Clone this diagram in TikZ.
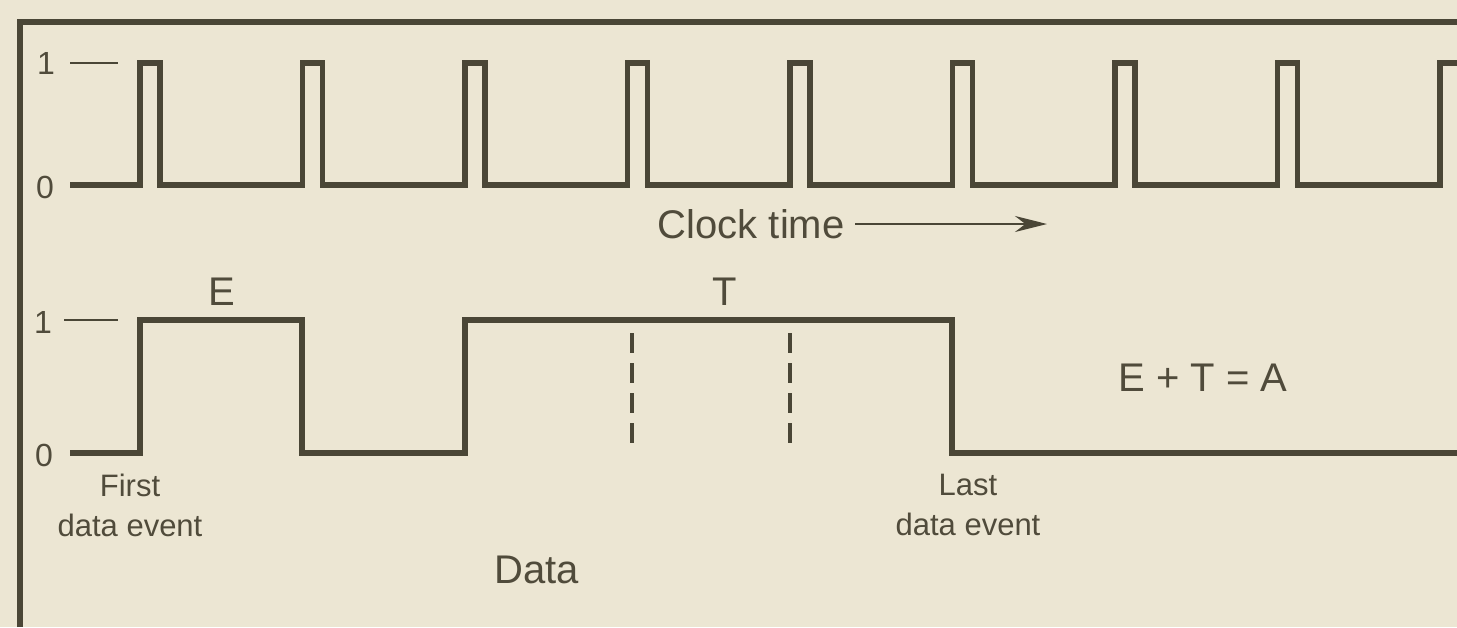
\documentclass[tikz,border=0pt]{standalone}
\usepackage{fontspec}
\setmainfont{Liberation Sans}
\usetikzlibrary{arrows.meta}
\definecolor{paper}{HTML}{ECE6D3}
\definecolor{ink}{HTML}{4A4636}
\definecolor{txt}{HTML}{504B3B}
\begin{document}
\begin{tikzpicture}[x=0.5pt,y=-0.5pt,
  wave/.style={draw=ink,line width=2.6pt,line join=miter},
  thin/.style={draw=ink,line width=1.3pt},
  frame/.style={draw=ink,line width=2.6pt},
  guide/.style={draw=ink,line width=1.9pt,dash pattern=on 10pt off 5pt},
  lbl/.style={text=txt,inner sep=0pt,font=\fontsize{16}{18}\selectfont},
  big/.style={text=txt,inner sep=0pt,font=\fontsize{20}{22}\selectfont},
  small/.style={text=txt,inner sep=0pt,align=center,font=\fontsize{15.5}{20}\selectfont}]
\fill[paper] (0,0) rectangle (1457,627);
\useasboundingbox (0,0) rectangle (1457,627);
% frame
\draw[frame] (20,627) -- (20,22) -- (1457,22);
% clock level labels
\node[lbl] (c1) at (46,63) {1};
\node[lbl] (c0) at (45,187) {0};
\coordinate (c1a) at (70,63);
\coordinate (c1b) at (118,63);
\draw[thin] (c1a) -- (c1b);
% clock waveform
\draw[wave] (70,185)
  \foreach \k in {0,...,7} {
    -- ({140+162.5*\k},185) -- ({140+162.5*\k},63) -- ({160+162.5*\k},63) -- ({160+162.5*\k},185)
  }
  -- (1440,185) -- (1440,63) -- (1460,63);
% clock time
\node[big,anchor=east] (ct) at (845,224) {Clock time};
\coordinate (arrEnd) at (1047,224);
\draw[thin,-{Stealth[length=16pt,width=8pt]}] (ct.east) ++(10,0) -- (arrEnd);
% data level labels
\node[lbl] (d1) at (43,322) {1};
\node[lbl] (d0) at (44,455) {0};
\coordinate (d1a) at (64,320);
\coordinate (d1b) at (118,320);
\draw[thin] (d1a) -- (d1b);
% data waveform
\draw[wave] (70,453) -- (140,453) -- (140,320) -- (302,320) -- (302,453)
  -- (465,453) -- (465,320) -- (952,320) -- (952,453) -- (1460,453);
% dashed guides
\coordinate (g1a) at (632,333); \coordinate (g1b) at (632,452);
\coordinate (g2a) at (790,333); \coordinate (g2b) at (790,452);
\draw[guide] (g1a) -- (g1b);
\draw[guide] (g2a) -- (g2b);
% labels
\node[big] (E) at (222,292) {E};
\node[big] (T) at (725,292) {T};
\node[big] (eq) at (1203,378) {E + T = A};
\node[small] (first) at (130,505) {First\\data event};
\node[small] (last) at (968,505) {Last\\data event};
\node[big] (data) at (537,570) {Data};
\end{tikzpicture}
\end{document}
